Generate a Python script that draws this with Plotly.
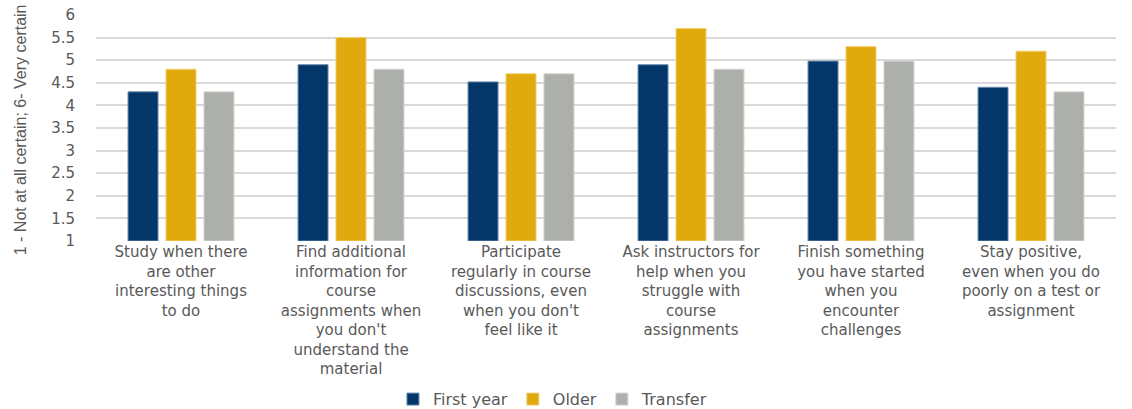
import plotly.graph_objects as go

categories = [
    "Study when there<br>are other<br>interesting things<br>to do",
    "Find additional<br>information for<br>course<br>assignments when<br>you don't<br>understand the<br>material",
    "Participate<br>regularly in course<br>discussions, even<br>when you don't<br>feel like it",
    "Ask instructors for<br>help when you<br>struggle with<br>course<br>assignments",
    "Finish something<br>you have started<br>when you<br>encounter<br>challenges",
    "Stay positive,<br>even when you do<br>poorly on a test or<br>assignment",
]
first_year = [4.3, 4.9, 4.52, 4.9, 4.98, 4.4]
older = [4.8, 5.5, 4.7, 5.7, 5.3, 5.2]
transfer = [4.3, 4.8, 4.7, 4.8, 4.98, 4.3]
y_ticks = [1, 1.5, 2, 2.5, 3, 3.5, 4, 4.5, 5, 5.5, 6]

series = [
    ("First year", first_year, "#03376A", "#6a8aab"),
    ("Older", older, "#E0AA0F", "#f0d070"),
    ("Transfer", transfer, "#ADAFAA", "#d4d5d2"),
]

fig = go.Figure()
for name, vals, color, lc in series:
    fig.add_trace(go.Bar(
        name=name, x=categories, y=[v - 1 for v in vals], base=1,
        marker=dict(color=color, line=dict(color=lc, width=1)),
    ))

font_family = "DejaVu Sans, Verdana, sans-serif"
fig.update_layout(
    width=1132, height=409,
    margin=dict(l=96, r=16, t=15, b=168, autoexpand=False),
    paper_bgcolor="white", plot_bgcolor="white",
    barmode="group", bargap=0.33, bargroupgap=0.21,
    font=dict(family=font_family, color="#595959", size=15),
    showlegend=True,
    legend=dict(orientation="h", x=0.448, xanchor="center", y=-0.70, yanchor="middle",
                font=dict(size=16, color="#595959"), itemwidth=30,
                traceorder="normal"),
    xaxis=dict(showgrid=False, showline=False, ticks="", tickangle=0, automargin=False,
               tickfont=dict(size=15, color="#595959")),
    yaxis=dict(range=[1, 6], tickvals=y_ticks, ticktext=[f"{t:g}" for t in y_ticks],
               showgrid=True, gridcolor="#d9d9d9", gridwidth=1.5, automargin=False,
               zeroline=False, showline=False, ticks="",
               ticklabelstandoff=20,
               tickfont=dict(size=15, color="#595959")),
    annotations=[dict(
        text="1 - Not at all certain; 6- Very certain",
        xref="paper", yref="paper", x=-0.0745, y=0.49,
        xanchor="center", yanchor="middle", textangle=-90, showarrow=False,
        font=dict(family="Liberation Sans, Arial, sans-serif", size=16, color="#595959"),
    )],
)

fig.write_html("out.html", config={"displayModeBar": False},
               post_script="document.body.style.margin='0';document.body.style.overflow='hidden';")
